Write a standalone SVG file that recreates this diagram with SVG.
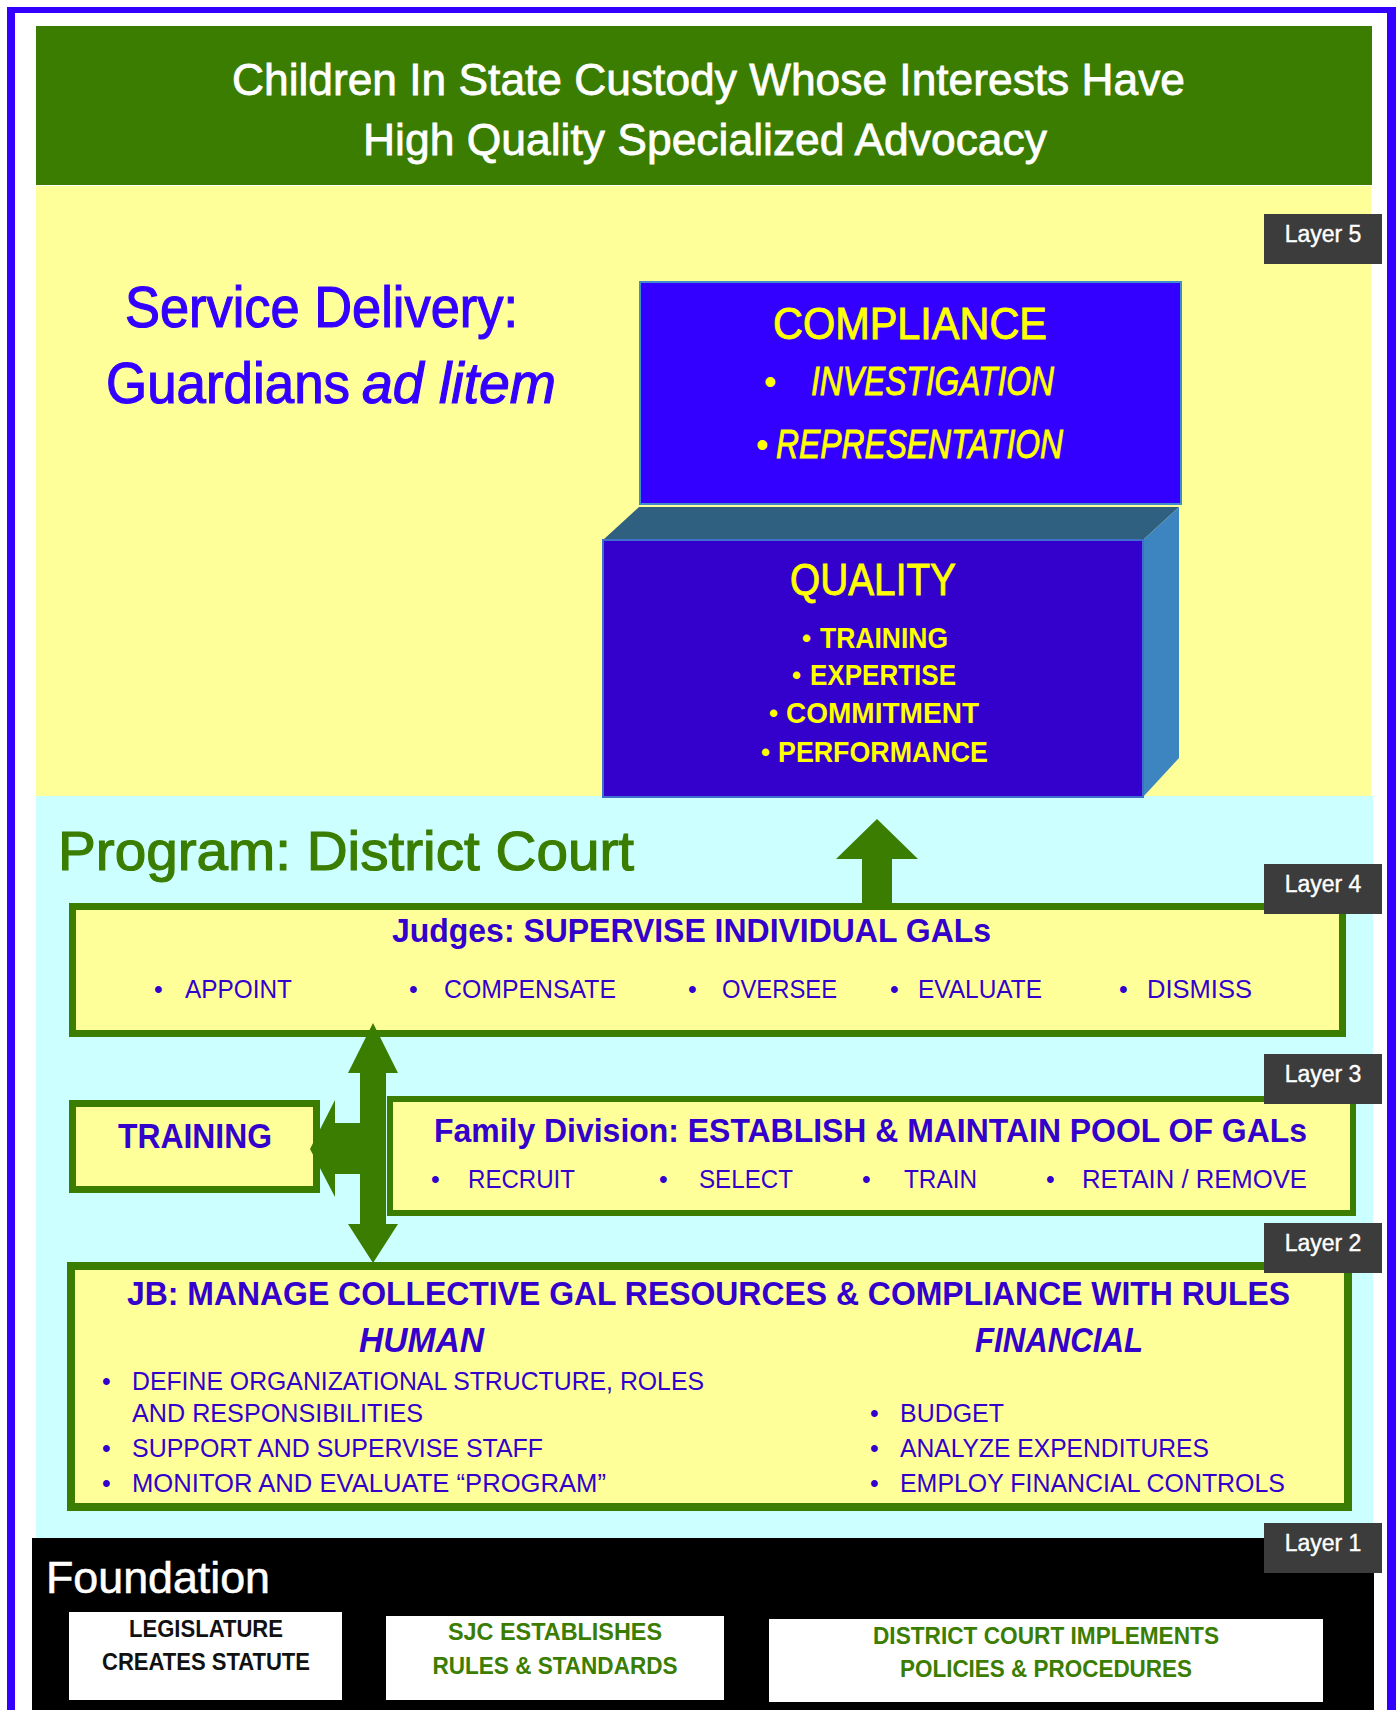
<svg xmlns="http://www.w3.org/2000/svg" width="1397" height="1710" viewBox="0 0 1397 1710">
<style>
text { font-family: "Liberation Sans", Arial, Helvetica, sans-serif; }
.hdr { fill:#ffffff; stroke:#ffffff; stroke-width:0.8px; font-size:45px; }
.svc { fill:#3300ff; stroke:#3300ff; stroke-width:1.2px; font-size:58px; }
.prog { fill:#3a7d00; stroke:#3a7d00; stroke-width:1.2px; font-size:55px; }
.yl { fill:#ffff00; }
.ys { stroke:#ffff00; stroke-width:0.9px; }
.bx { fill:#ffff99; stroke:#3a7d00; }
.bt { fill:#3300cc; font-weight:bold; }
.bl { fill:#3300cc; font-size:25px; }
.badge rect { fill:#3c3c3c; }
.badge text { fill:#ffffff; stroke:#ffffff; stroke-width:0.4px; font-size:23px; text-anchor:middle; }
.arrow { fill:#3a7d00; }
.fbox { fill:#ffffff; }
.ft { font-size:24px; font-weight:bold; text-anchor:middle; }
</style>

<rect x="0" y="0" width="1397" height="1710" fill="#ffffff"/>
<!-- outer blue frame -->
<g id="frame" fill="#3300ff">
  <rect x="7" y="7" width="1389" height="6"/>
  <rect x="7" y="7" width="8" height="1703"/>
  <rect x="1387" y="7" width="9" height="1703"/>
</g>

<!-- layer backgrounds -->
<g id="header">
  <rect x="36" y="26" width="1336" height="159" fill="#3a7d00"/>
  <text class="hdr" x="232" y="95" textLength="953" lengthAdjust="spacingAndGlyphs">Children In State Custody Whose Interests Have</text>
  <text class="hdr" x="363" y="155" textLength="684" lengthAdjust="spacingAndGlyphs">High Quality Specialized Advocacy</text>
</g>
<rect id="layer5-bg" x="36" y="186" width="1335" height="610" fill="#ffff99"/>
<rect id="program-bg" x="36" y="796" width="1337" height="742" fill="#ccffff"/>
<rect id="foundation-bg" x="32" y="1538" width="1342" height="172" fill="#000000"/>

<g id="service-delivery">
  <text class="svc" x="125" y="327" textLength="393" lengthAdjust="spacingAndGlyphs">Service Delivery:</text>
  <text class="svc" x="106" y="403" textLength="244" lengthAdjust="spacingAndGlyphs">Guardians</text>
  <text class="svc" x="362" y="403" font-style="italic" textLength="194" lengthAdjust="spacingAndGlyphs">ad litem</text>
</g>

<g id="compliance">
  <rect x="640" y="282" width="541" height="222" fill="#3300ff" stroke="#3f8ccc" stroke-width="2"/>
  <text class="yl ys" x="910" y="339" font-size="45" text-anchor="middle" textLength="274" lengthAdjust="spacingAndGlyphs">COMPLIANCE</text>
  <text class="yl" x="764" y="394" font-size="36">•</text>
  <text class="yl ys" x="811" y="395" font-size="41" font-style="italic" textLength="243" lengthAdjust="spacingAndGlyphs">INVESTIGATION</text>
  <text class="yl" x="756" y="457" font-size="36">•</text>
  <text class="yl ys" x="776" y="458" font-size="41" font-style="italic" textLength="287" lengthAdjust="spacingAndGlyphs">REPRESENTATION</text>
</g>

<g id="quality">
  <polygon points="603,540 639,507 1179,507 1143,540" fill="#2f6080"/>
  <polygon points="1143,540 1179,507 1179,758 1143,797" fill="#3d85c0"/>
  <rect x="603" y="540" width="540" height="257" fill="#3300cc" stroke="#3f6fcc" stroke-width="2"/>
  <text class="yl ys" x="873" y="595" font-size="45" text-anchor="middle" textLength="166" lengthAdjust="spacingAndGlyphs">QUALITY</text>
  <g class="yl" font-size="30" font-weight="bold">
    <text x="802" y="647" font-size="26">•</text>
    <text x="820" y="648" textLength="128" lengthAdjust="spacingAndGlyphs">TRAINING</text>
    <text x="792" y="684" font-size="26">•</text>
    <text x="810" y="685" textLength="146" lengthAdjust="spacingAndGlyphs">EXPERTISE</text>
    <text x="769" y="722" font-size="26">•</text>
    <text x="786" y="723" textLength="193" lengthAdjust="spacingAndGlyphs">COMMITMENT</text>
    <text x="761" y="761" font-size="26">•</text>
    <text x="778" y="762" textLength="210" lengthAdjust="spacingAndGlyphs">PERFORMANCE</text>
  </g>
</g>

<text id="program-title" class="prog" x="58" y="870" textLength="576" lengthAdjust="spacingAndGlyphs">Program:  District Court</text>

<g id="judges">
  <rect class="bx" x="72.5" y="906.5" width="1270" height="127" stroke-width="7"/>
  <text class="bt" x="392" y="942" font-size="33" textLength="599" lengthAdjust="spacingAndGlyphs">Judges:  SUPERVISE INDIVIDUAL GALs</text>
  <g class="bl" font-size="26">
    <text x="154" y="998">•</text><text x="185" y="998" textLength="107" lengthAdjust="spacingAndGlyphs">APPOINT</text>
    <text x="409" y="998">•</text><text x="444" y="998" textLength="172" lengthAdjust="spacingAndGlyphs">COMPENSATE</text>
    <text x="688" y="998">•</text><text x="722" y="998" textLength="115" lengthAdjust="spacingAndGlyphs">OVERSEE</text>
    <text x="890" y="998">•</text><text x="918" y="998" textLength="124" lengthAdjust="spacingAndGlyphs">EVALUATE</text>
    <text x="1119" y="998">•</text><text x="1147" y="998" textLength="105" lengthAdjust="spacingAndGlyphs">DISMISS</text>
  </g>
</g>

<g id="training">
  <rect class="bx" x="72.5" y="1103.5" width="244" height="86" stroke-width="7"/>
  <text class="bt" x="118" y="1148" font-size="35" textLength="154" lengthAdjust="spacingAndGlyphs">TRAINING</text>
</g>

<g id="family-division">
  <rect class="bx" x="390" y="1099" width="963" height="114" stroke-width="6"/>
  <text class="bt" x="434" y="1142" font-size="34" textLength="873" lengthAdjust="spacingAndGlyphs">Family Division:  ESTABLISH &amp; MAINTAIN POOL OF GALs</text>
  <g class="bl" font-size="27">
    <text x="431" y="1188">•</text><text x="468" y="1188" textLength="107" lengthAdjust="spacingAndGlyphs">RECRUIT</text>
    <text x="659" y="1188">•</text><text x="699" y="1188" textLength="94" lengthAdjust="spacingAndGlyphs">SELECT</text>
    <text x="862" y="1188">•</text><text x="904" y="1188" textLength="73" lengthAdjust="spacingAndGlyphs">TRAIN</text>
    <text x="1046" y="1188">•</text><text x="1082" y="1188" textLength="225" lengthAdjust="spacingAndGlyphs">RETAIN / REMOVE</text>
  </g>
</g>

<g id="jb">
  <rect class="bx" x="71" y="1266" width="1277" height="241" stroke-width="8"/>
  <text class="bt" x="127" y="1305" font-size="34" textLength="1163" lengthAdjust="spacingAndGlyphs">JB:  MANAGE COLLECTIVE GAL RESOURCES  &amp;  COMPLIANCE WITH RULES</text>
  <text class="bt" x="359" y="1352" font-size="35" font-style="italic" textLength="125" lengthAdjust="spacingAndGlyphs">HUMAN</text>
  <text class="bt" x="975" y="1352" font-size="35" font-style="italic" textLength="168" lengthAdjust="spacingAndGlyphs">FINANCIAL</text>
  <g class="bl" font-size="27">
    <text x="102" y="1390">•</text><text x="132" y="1390" textLength="572" lengthAdjust="spacingAndGlyphs">DEFINE ORGANIZATIONAL STRUCTURE, ROLES</text>
    <text x="132" y="1422" textLength="291" lengthAdjust="spacingAndGlyphs">AND RESPONSIBILITIES</text>
    <text x="102" y="1457">•</text><text x="132" y="1457" textLength="411" lengthAdjust="spacingAndGlyphs">SUPPORT AND SUPERVISE STAFF</text>
    <text x="102" y="1492">•</text><text x="132" y="1492" textLength="474" lengthAdjust="spacingAndGlyphs">MONITOR AND EVALUATE “PROGRAM”</text>
    <text x="870" y="1422">•</text><text x="900" y="1422" textLength="104" lengthAdjust="spacingAndGlyphs">BUDGET</text>
    <text x="870" y="1457">•</text><text x="900" y="1457" textLength="309" lengthAdjust="spacingAndGlyphs">ANALYZE EXPENDITURES</text>
    <text x="870" y="1492">•</text><text x="900" y="1492" textLength="385" lengthAdjust="spacingAndGlyphs">EMPLOY FINANCIAL CONTROLS</text>
  </g>
</g>

<g id="foundation">
  <text x="46" y="1593" font-size="45" fill="#ffffff" stroke="#ffffff" stroke-width="0.6" textLength="224" lengthAdjust="spacingAndGlyphs">Foundation</text>
  <g id="legislature">
    <rect class="fbox" x="69" y="1612" width="273" height="88"/>
    <text class="ft" x="206" y="1637" fill="#111111" textLength="154" lengthAdjust="spacingAndGlyphs">LEGISLATURE</text>
    <text class="ft" x="206" y="1670" fill="#111111" textLength="208" lengthAdjust="spacingAndGlyphs">CREATES STATUTE</text>
  </g>
  <g id="sjc">
    <rect class="fbox" x="386" y="1616" width="338" height="84"/>
    <text class="ft" x="555" y="1640" fill="#3a7d00" textLength="214" lengthAdjust="spacingAndGlyphs">SJC ESTABLISHES</text>
    <text class="ft" x="555" y="1674" fill="#3a7d00" textLength="245" lengthAdjust="spacingAndGlyphs">RULES &amp; STANDARDS</text>
  </g>
  <g id="district-court">
    <rect class="fbox" x="769" y="1619" width="554" height="83"/>
    <text class="ft" x="1046" y="1644" fill="#3a7d00" textLength="346" lengthAdjust="spacingAndGlyphs">DISTRICT COURT IMPLEMENTS</text>
    <text class="ft" x="1046" y="1677" fill="#3a7d00" textLength="292" lengthAdjust="spacingAndGlyphs">POLICIES &amp; PROCEDURES</text>
  </g>
</g>

<!-- connectors -->
<g id="connectors" class="arrow">
  <polygon points="877,819 918,859 892,859 892,905 862,905 862,859 836,859"/>
  <polygon points="373,1023 398,1073 386,1073 386,1224 398,1224 373,1263 348,1224 360,1224 360,1174 335,1174 335,1197 310,1149 335,1100 335,1123 360,1123 360,1073 348,1073"/>
</g>

<g id="badges">
  <g class="badge" id="layer5"><rect x="1264" y="214" width="118" height="50"/><text x="1323" y="242">Layer 5</text></g>
  <g class="badge" id="layer4"><rect x="1264" y="864" width="118" height="50"/><text x="1323" y="892">Layer 4</text></g>
  <g class="badge" id="layer3"><rect x="1264" y="1054" width="118" height="50"/><text x="1323" y="1082">Layer 3</text></g>
  <g class="badge" id="layer2"><rect x="1264" y="1223" width="118" height="50"/><text x="1323" y="1251">Layer 2</text></g>
  <g class="badge" id="layer1"><rect x="1264" y="1523" width="118" height="50"/><text x="1323" y="1551">Layer 1</text></g>
</g>
</svg>
